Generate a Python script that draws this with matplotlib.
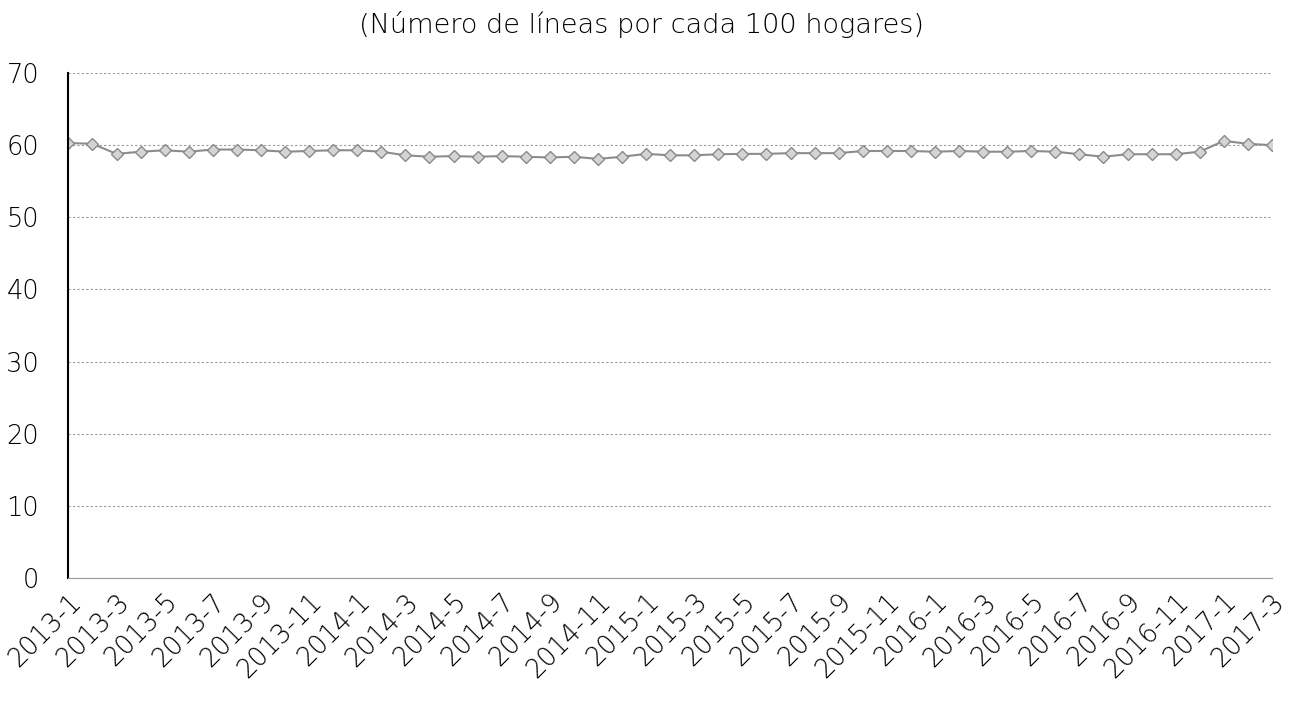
import matplotlib
matplotlib.use("Agg")
import matplotlib.pyplot as plt

plt.rcParams['font.family'] = ['DejaVu Sans']

# monthly series 2013-1 .. 2017-3
months = [f"{y}-{m}" for y in range(2013, 2018) for m in range(1, 13)][:51]
values = [60.3, 60.2, 58.8, 59.1, 59.3, 59.1, 59.4, 59.4, 59.3, 59.1,
          59.2, 59.3, 59.3, 59.1, 58.6, 58.4, 58.5, 58.4, 58.5, 58.4,
          58.3, 58.4, 58.1, 58.4, 58.8, 58.6, 58.6, 58.75, 58.8, 58.8,
          58.9, 58.9, 58.9, 59.2, 59.2, 59.2, 59.1, 59.2, 59.1, 59.1,
          59.2, 59.1, 58.75, 58.4, 58.75, 58.75, 58.75, 59.1, 60.6, 60.2,
          60.0]
yticks = [0, 10, 20, 30, 40, 50, 60, 70]
title = "(Número de líneas por cada 100 hogares)"

fig = plt.figure(figsize=(12.9, 7.03), dpi=100)
ax = fig.add_axes([0.053, 0.178, 0.933, 0.718])

x = list(range(len(values)))
ax.plot(x, values, color="#8c8c8c", linewidth=1.5, marker="D", markersize=6,
        markerfacecolor="#d4d4d4", markeredgecolor="#8a8a8a", markeredgewidth=1)

ax.set_xlim(0, len(values) - 1)
ax.set_ylim(0, 70)
ax.set_yticks(yticks)
ax.yaxis.grid(True, linestyle=(0, (2, 2)), color="#9a9a9a", linewidth=0.8)
ax.set_axisbelow(True)

ax.set_xticks(x[::2])
ax.set_xticklabels(months[::2], rotation=45, ha="right", rotation_mode="anchor",
                   fontsize=18.5, fontweight="light")
ax.set_yticklabels([str(t) for t in yticks], fontsize=18.5, fontweight="light")
ax.tick_params(axis="y", length=0, pad=21)
ax.tick_params(axis="x", length=0, pad=8)

for s in ["top", "right"]:
    ax.spines[s].set_visible(False)
ax.spines["left"].set_color("black")
ax.spines["left"].set_linewidth(1.5)
ax.spines["bottom"].set_color("#9a9a9a")
ax.spines["bottom"].set_linestyle((0, (2, 1)))

fig.text(0.497, 0.965, title, ha="center", va="center", fontsize=19.5,
         fontweight="light")

fig.savefig("out.png", dpi=100)
